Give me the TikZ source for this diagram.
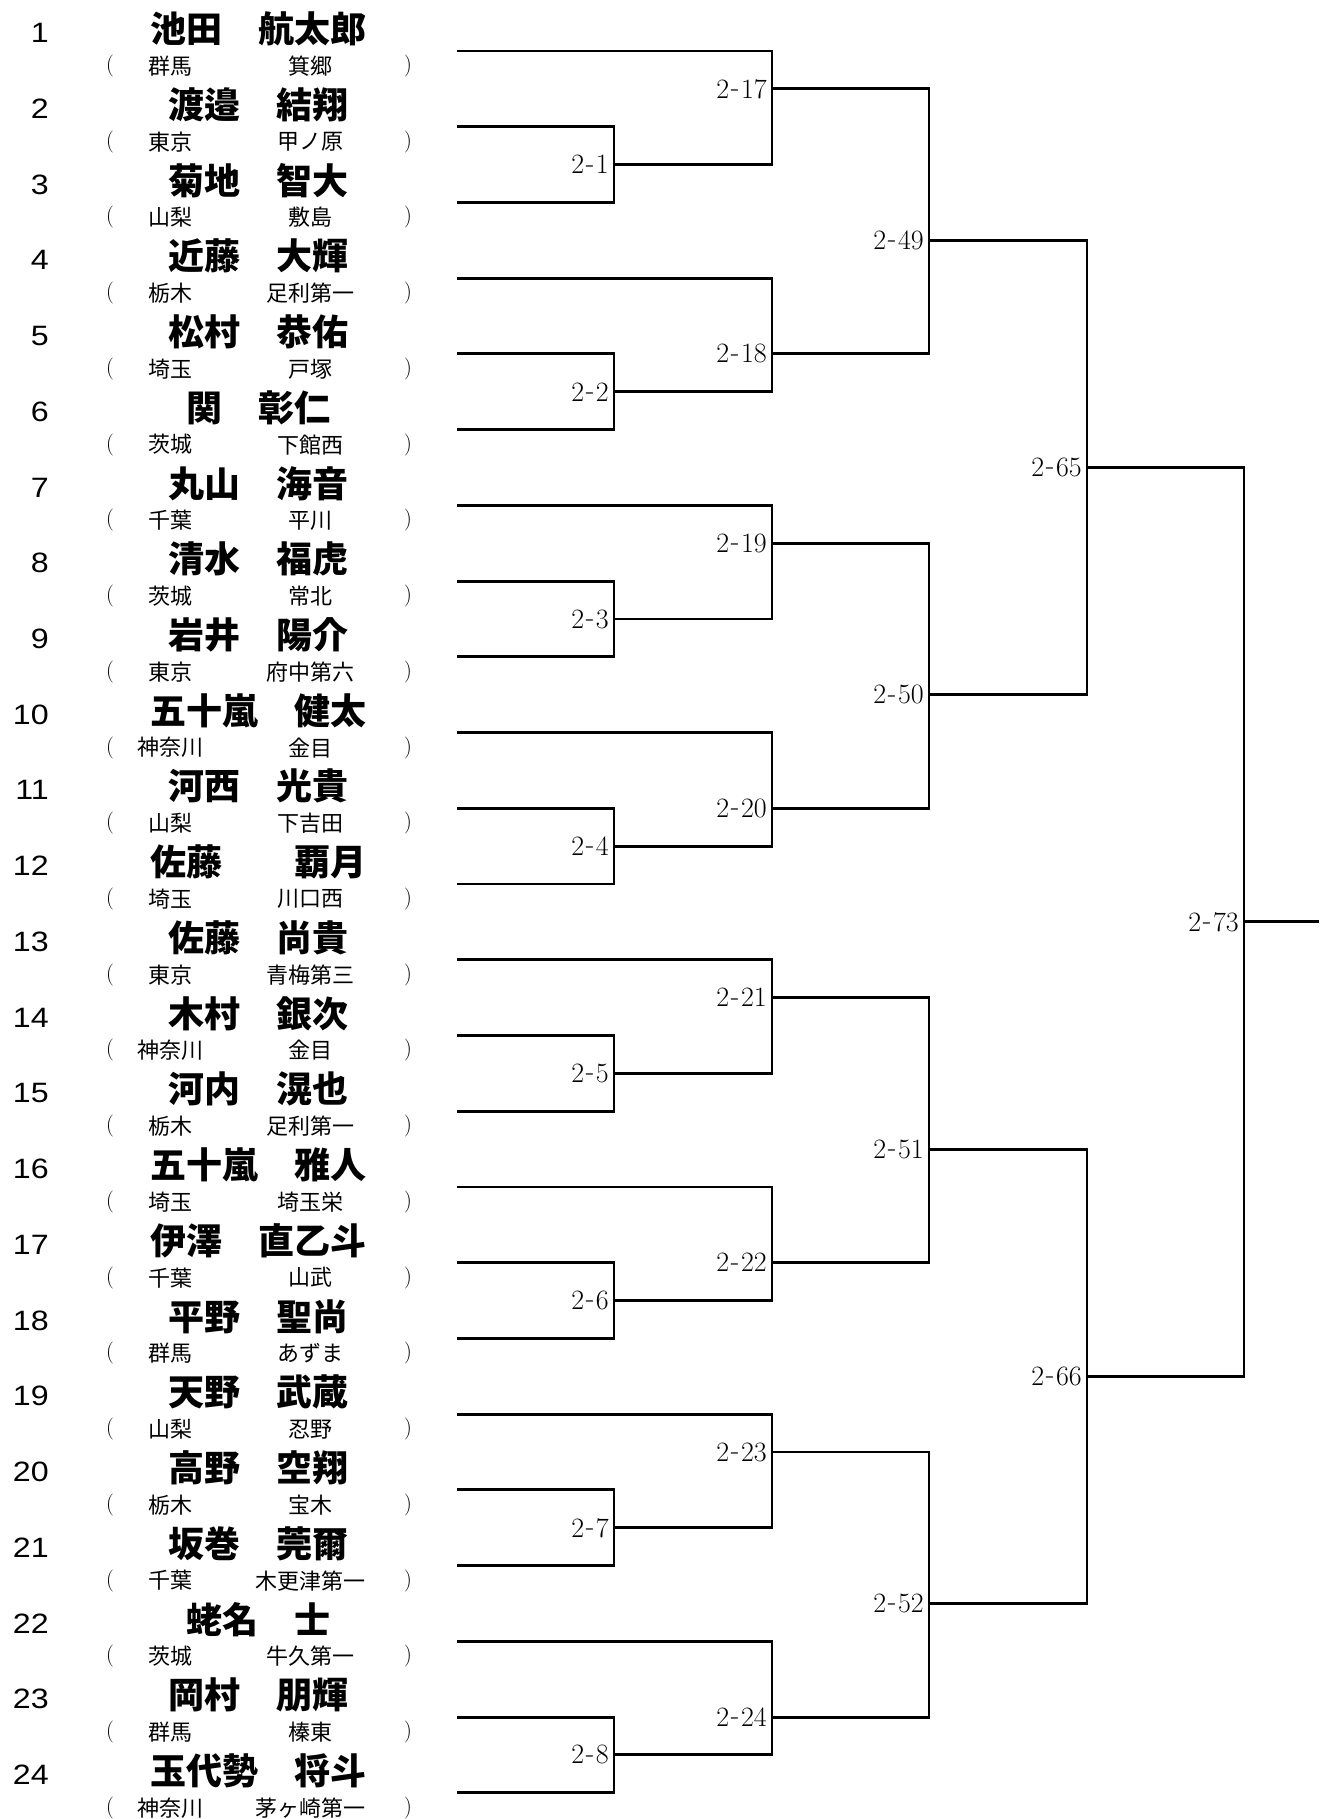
\documentclass[tikz,border=0pt]{standalone}
\usepackage{fontspec}
\newfontfamily\jpn{Noto Sans CJK JP}
\newfontfamily\numf[FakeStretch=1.15]{Liberation Sans}
\newcommand\mydash{\kern0.06em\raisebox{0.06em}{-}\kern0.06em}
\tikzset{
  numtxt/.style={anchor=east, inner sep=0pt, font=\numf\fontsize{28}{28}\selectfont},
  nametxt/.style={inner sep=0pt, font=\jpn\bfseries\fontsize{36}{36}\selectfont},
  afftxt/.style={inner sep=0pt, font=\jpn\fontsize{22}{22}\selectfont},
  partxt/.style={inner sep=0pt, font=\fontsize{22}{22}\selectfont},
  lab/.style={anchor=east, inner sep=0pt, font=\fontsize{28}{28}\selectfont},
  br/.style={line width=2.9pt, line join=miter}
}
\begin{document}
\begin{tikzpicture}[x=1pt,y=-1pt]
\path[use as bounding box, fill=white] (0,0) rectangle (1319,1819);
\foreach \k/\nm/\pf/\sc in {
 1/池田　航太郎/群馬/箕郷,
 2/渡邉　結翔/東京/甲ノ原,
 3/菊地　智大/山梨/敷島,
 4/近藤　大輝/栃木/足利第一,
 5/松村　恭佑/埼玉/戸塚,
 6/関　彰仁/茨城/下館西,
 7/丸山　海音/千葉/平川,
 8/清水　福虎/茨城/常北,
 9/岩井　陽介/東京/府中第六,
 10/五十嵐　健太/神奈川/金目,
 11/河西　光貴/山梨/下吉田,
 12/佐藤　　覇月/埼玉/川口西,
 13/佐藤　尚貴/東京/青梅第三,
 14/木村　銀次/神奈川/金目,
 15/河内　滉也/栃木/足利第一,
 16/五十嵐　雅人/埼玉/埼玉栄,
 17/伊澤　直乙斗/千葉/山武,
 18/平野　聖尚/群馬/あずま,
 19/天野　武蔵/山梨/忍野,
 20/高野　空翔/栃木/宝木,
 21/坂巻　莞爾/千葉/木更津第一,
 22/蛯名　士/茨城/牛久第一,
 23/岡村　朋輝/群馬/榛東,
 24/玉代勢　将斗/神奈川/茅ヶ崎第一}{
  \pgfmathsetmacro\yy{51+75.73*(\k-1)}
  \node[numtxt] (n\k) at (49,{\yy-18}) {\k};
  \node[nametxt] (nm\k) at (258,{\yy-22}) {\nm};
  \node[afftxt] (pf\k) at (170,{\yy+15}) {\pf};
  \node[afftxt] (sc\k) at (310,{\yy+15}) {\sc};
  \node[partxt] (lpar\k) at (110,{\yy+15}) {(};
  \node[partxt] (rpar\k) at (408,{\yy+15}) {)};
  \coordinate (e\k) at (457,\yy);
}
% first two rounds
\foreach \g in {0,...,7}{
  \pgfmathtruncatemacro\a{3*\g+1}
  \pgfmathtruncatemacro\b{3*\g+2}
  \pgfmathtruncatemacro\c{3*\g+3}
  \pgfmathtruncatemacro\pn{\g+1}
  \pgfmathtruncatemacro\qn{\g+17}
  \pgfmathsetmacro\py{51+75.73*(\b-1)+75.73/2}
  \pgfmathsetmacro\qy{51+75.73*(\a-1)+75.73/2*(1+mod(\g,2))}
  \coordinate (p\pn) at (614,\py);
  \coordinate (p\qn) at (772,\qy);
  \draw[br] (e\b) -| (p\pn) |- (e\c);
  \draw[br] (e\a) -| (p\qn);
  \draw[br] (p\pn) -| (p\qn);
  \node[lab] (m\pn) at ([xshift=-5pt]p\pn) {2\mydash\pn};
  \node[lab] (m\qn) at ([xshift=-5pt]p\qn) {2\mydash\qn};
}
% third round
\foreach \h in {0,...,3}{
  \pgfmathtruncatemacro\rn{49+\h}
  \pgfmathtruncatemacro\ua{17+2*\h}
  \pgfmathtruncatemacro\ub{18+2*\h}
  \pgfmathsetmacro\ry{51+75.73*(6*\h+2)+75.73/2}
  \coordinate (p\rn) at (929,\ry);
  \draw[br] (p\ua) -| (p\rn);
  \draw[br] (p\ub) -| (p\rn);
  \node[lab] (m\rn) at ([xshift=-5pt]p\rn) {2\mydash\rn};
}
% fourth round
\coordinate (p65) at (1087,{51+75.73*5+75.73/2});
\coordinate (p66) at (1087,{51+75.73*17+75.73/2});
\draw[br] (p49) -| (p65);
\draw[br] (p50) -| (p65);
\draw[br] (p51) -| (p66);
\draw[br] (p52) -| (p66);
\node[lab] (m65) at ([xshift=-5pt]p65) {2\mydash65};
\node[lab] (m66) at ([xshift=-5pt]p66) {2\mydash66};
% final
\coordinate (p73) at (1244,{51+75.73*11+75.73/2});
\coordinate (fin) at (1319,{51+75.73*11+75.73/2});
\draw[br] (p65) -| (p73);
\draw[br] (p66) -| (p73);
\draw[br] (p73) -- (fin);
\node[lab] (m73) at ([xshift=-5pt]p73) {2\mydash73};
\end{tikzpicture}
\end{document}
